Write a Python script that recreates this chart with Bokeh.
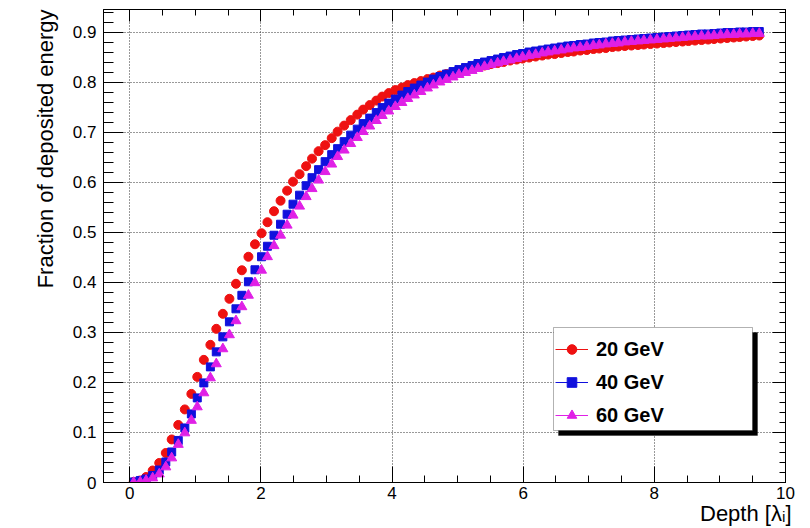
import numpy as np
from bokeh.plotting import figure
from bokeh.models import (Range1d, LinearAxis, FixedTicker, Legend, LegendItem,
                          BoxAnnotation, Title, CustomJSTickFormatter)
from bokeh.embed import file_html
from bokeh.resources import INLINE

# ---------------- data ----------------
depth = [0.06, 0.16, 0.25, 0.35, 0.45, 0.55, 0.64, 0.74, 0.84, 0.94,
         1.03, 1.13, 1.23, 1.32, 1.42, 1.52, 1.62, 1.71, 1.81, 1.91,
         2.01, 2.10, 2.20, 2.30, 2.40, 2.49, 2.59, 2.69, 2.78, 2.88,
         2.98, 3.08, 3.17, 3.27, 3.37, 3.47, 3.56, 3.66, 3.76, 3.85,
         3.95, 4.05, 4.15, 4.24, 4.34, 4.44, 4.54, 4.63, 4.73, 4.83,
         4.93, 5.02, 5.12, 5.22, 5.31, 5.41, 5.51, 5.61, 5.70, 5.80,
         5.90, 5.99, 6.09, 6.19, 6.29, 6.38, 6.48, 6.58, 6.68, 6.77,
         6.87, 6.97, 7.07, 7.16, 7.26, 7.36, 7.45, 7.55, 7.65, 7.75,
         7.84, 7.94, 8.04, 8.14, 8.23, 8.33, 8.43, 8.52, 8.62, 8.72,
         8.82, 8.91, 9.01, 9.11, 9.21, 9.30, 9.40, 9.50, 9.60]

frac_20gev = [0.001, 0.004, 0.011, 0.024, 0.039, 0.059, 0.086, 0.115, 0.146, 0.177,
              0.211, 0.245, 0.275, 0.307, 0.337, 0.367, 0.397, 0.424, 0.451, 0.476,
              0.498, 0.520, 0.542, 0.563, 0.583, 0.601, 0.616, 0.632, 0.647, 0.662,
              0.674, 0.688, 0.701, 0.713, 0.724, 0.735, 0.745, 0.754, 0.763, 0.771,
              0.778, 0.784, 0.789, 0.794, 0.798, 0.802, 0.806, 0.809, 0.813, 0.816,
              0.819, 0.822, 0.825, 0.828, 0.831, 0.833, 0.836, 0.838, 0.840, 0.843,
              0.845, 0.847, 0.849, 0.851, 0.853, 0.855, 0.856, 0.858, 0.860, 0.861,
              0.863, 0.864, 0.866, 0.867, 0.868, 0.870, 0.871, 0.872, 0.873, 0.874,
              0.875, 0.876, 0.877, 0.878, 0.879, 0.880, 0.881, 0.882, 0.883, 0.884,
              0.885, 0.886, 0.887, 0.888, 0.889, 0.890, 0.891, 0.892, 0.893]

frac_40gev = [0.001, 0.004, 0.007, 0.014, 0.025, 0.041, 0.061, 0.084, 0.109, 0.137,
              0.169, 0.199, 0.231, 0.261, 0.291, 0.321, 0.347, 0.374, 0.401, 0.425,
              0.451, 0.472, 0.494, 0.516, 0.536, 0.556, 0.574, 0.593, 0.609, 0.625,
              0.641, 0.655, 0.667, 0.681, 0.694, 0.706, 0.717, 0.728, 0.739, 0.749,
              0.758, 0.766, 0.774, 0.781, 0.788, 0.794, 0.800, 0.806, 0.811, 0.816,
              0.821, 0.825, 0.829, 0.833, 0.837, 0.840, 0.843, 0.846, 0.849, 0.852,
              0.855, 0.857, 0.860, 0.862, 0.864, 0.866, 0.868, 0.870, 0.872, 0.873,
              0.875, 0.876, 0.878, 0.879, 0.880, 0.882, 0.883, 0.884, 0.885, 0.886,
              0.887, 0.888, 0.889, 0.890, 0.891, 0.892, 0.893, 0.894, 0.895, 0.896,
              0.896, 0.897, 0.898, 0.899, 0.899, 0.900, 0.900, 0.901, 0.901]

frac_60gev = [0.000, 0.001, 0.004, 0.009, 0.017, 0.031, 0.049, 0.076, 0.099, 0.124,
              0.151, 0.179, 0.209, 0.237, 0.267, 0.295, 0.323, 0.351, 0.374, 0.399,
              0.424, 0.451, 0.473, 0.494, 0.514, 0.534, 0.552, 0.571, 0.587, 0.604,
              0.621, 0.636, 0.651, 0.664, 0.677, 0.689, 0.701, 0.712, 0.723, 0.733,
              0.742, 0.751, 0.759, 0.767, 0.774, 0.781, 0.788, 0.794, 0.800, 0.805,
              0.810, 0.815, 0.819, 0.823, 0.827, 0.831, 0.835, 0.838, 0.841, 0.844,
              0.847, 0.850, 0.853, 0.855, 0.858, 0.860, 0.862, 0.864, 0.866, 0.868,
              0.869, 0.871, 0.873, 0.874, 0.876, 0.877, 0.878, 0.880, 0.881, 0.882,
              0.883, 0.884, 0.885, 0.886, 0.887, 0.888, 0.889, 0.890, 0.891, 0.892,
              0.892, 0.893, 0.894, 0.895, 0.895, 0.896, 0.896, 0.897, 0.897]

series_labels = ["20 GeV", "40 GeV", "60 GeV"]
x_ticks = [0, 2, 4, 6, 8, 10]
x_tick_labels = ["0", "2", "4", "6", "8", "10"]
y_ticks = [0, 0.1, 0.2, 0.3, 0.4, 0.5, 0.6, 0.7, 0.8, 0.9]
y_tick_labels = ["0", "0.1", "0.2", "0.3", "0.4", "0.5", "0.6", "0.7", "0.8", "0.9"]
x_title = "Depth [λ\u1d62]"
y_title = "Fraction of deposited energy"

# ---------------- layout ----------------
X0, X1 = -0.4, 10.0
Y0, Y1 = 0.0, 0.945
W, H = 810, 528
FL, FR, FT, FB = 103, 785, 9, 482
FONT = "Liberation Sans"
RED, BLUE, MAG = "#ee1111", "#1010dd", "#e020e6"


def px2x(px):
    return X0 + (px - FL) * (X1 - X0) / (FR - FL)


def py2y(py):
    return Y0 + (FB - py) * (Y1 - Y0) / (FB - FT)


p = figure(width=W, height=H, x_range=Range1d(X0, X1), y_range=Range1d(Y0, Y1),
           output_backend="svg", toolbar_location=None,
           min_border_left=FL, min_border_right=W - FR,
           min_border_top=FT, min_border_bottom=H - FB)
p.outline_line_color = "black"
p.outline_line_width = 1
p.background_fill_color = "white"
p.border_fill_color = "white"

xt = FixedTicker(ticks=x_ticks, minor_ticks=[i * 0.5 for i in range(0, 21)])
yt = FixedTicker(ticks=y_ticks, minor_ticks=[i * 0.02 for i in range(0, 48)])


def style_axis(ax, maj, mnr):
    ax.major_tick_in = maj
    ax.major_tick_out = 0
    ax.minor_tick_in = mnr
    ax.minor_tick_out = 0
    ax.axis_line_color = "black"
    ax.major_tick_line_color = "black"
    ax.minor_tick_line_color = "black"
    ax.major_label_text_font = FONT
    ax.major_label_text_font_size = "17px"
    ax.major_label_text_color = "black"


xa = p.xaxis[0]
xa.ticker = xt
xa.major_label_overrides = {t: s for t, s in zip(x_ticks, x_tick_labels)}
style_axis(xa, 16, 7)
xa.major_label_standoff = 4

ya = p.yaxis[0]
ya.ticker = yt
ya.major_label_overrides = {t: s for t, s in zip(y_ticks, y_tick_labels)}
style_axis(ya, 20, 10)
ya.major_label_standoff = 7

blank = CustomJSTickFormatter(code="return ''")

top = LinearAxis(ticker=xt, formatter=blank)
style_axis(top, 12, 6)
top.major_label_standoff = 0
p.add_layout(top, "above")

right = LinearAxis(ticker=yt, formatter=blank)
style_axis(right, 13, 6)
right.major_label_standoff = 0
p.add_layout(right, "right")

for g, t in ((p.xgrid, xt), (p.ygrid, yt)):
    g.ticker = t
    g.grid_line_color = "#333333"
    g.grid_line_dash = "1 2"
    g.grid_line_width = 1

# ---------------- data markers ----------------
r20 = p.scatter(depth, frac_20gev, marker="circle", size=9, color=RED)
r40 = p.scatter(depth, frac_40gev, marker="square", size=8, color=BLUE)
r60 = p.scatter(depth, frac_60gev, marker="triangle", size=10, color=MAG)

# line glyphs used only for the legend swatches (nothing drawn in the plot)
l20 = p.line(x=[np.nan], y=[np.nan], color=RED, line_width=1)
l40 = p.line(x=[np.nan], y=[np.nan], color=BLUE, line_width=1)
l60 = p.line(x=[np.nan], y=[np.nan], color=MAG, line_width=1)

# ---------------- legend with shadow ----------------
shadow = BoxAnnotation(left=px2x(558), right=px2x(757), top=py2y(332), bottom=py2y(435),
                       fill_color="black", fill_alpha=1.0, line_color="black")
box = BoxAnnotation(left=px2x(553), right=px2x(752), top=py2y(327), bottom=py2y(430),
                    fill_color="white", fill_alpha=1.0, line_color="black", line_width=1)
p.add_layout(shadow)
p.add_layout(box)

legend = Legend(items=[LegendItem(label=series_labels[0], renderers=[l20, r20]),
                       LegendItem(label=series_labels[1], renderers=[l40, r40]),
                       LegendItem(label=series_labels[2], renderers=[l60, r60])],
                location=(452, 55), orientation="vertical", padding=5, margin=0,
                spacing=9, glyph_width=33, glyph_height=24, label_height=24,
                label_standoff=8, label_text_font=FONT, label_text_font_style="bold",
                label_text_font_size="20px", label_text_color="black",
                background_fill_alpha=0, border_line_color=None)
p.add_layout(legend, "center")

# ---------------- axis titles (right-aligned, ROOT style) ----------------
p.add_layout(Title(text=y_title, align="right", text_font=FONT, text_font_size="22px",
                   text_font_style="normal", text_color="black", standoff=24,
                   offset=0), "left")
p.add_layout(Title(text=x_title, align="right", text_font=FONT, text_font_size="22px",
                   text_font_style="normal", text_color="black", standoff=-5,
                   offset=-6), "below")

open("out.html", "w").write(file_html(p, INLINE))
